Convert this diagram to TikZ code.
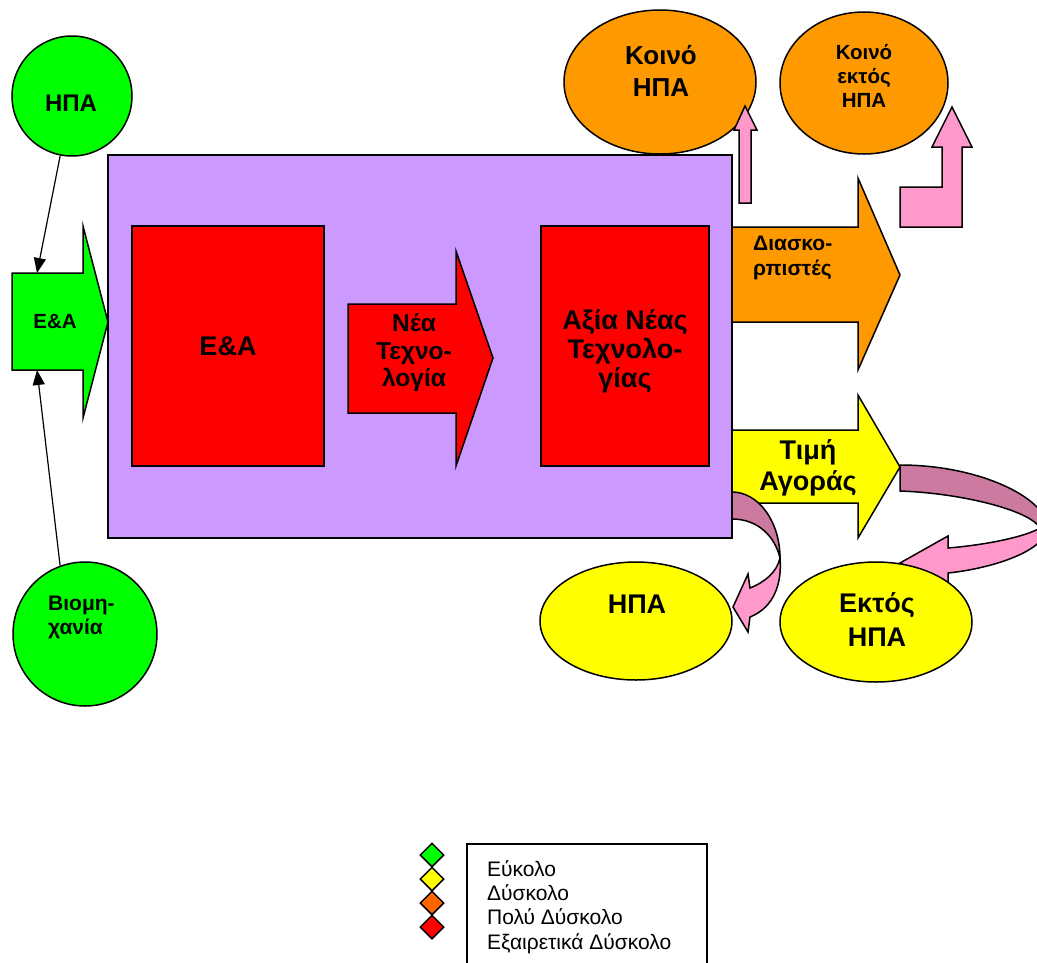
\documentclass[tikz,border=0pt]{standalone}
\usepackage{fontspec}
\setmainfont{Liberation Sans}
\usetikzlibrary{arrows.meta,shapes.geometric}
\definecolor{cGreen}{HTML}{00FF00}
\definecolor{cPurple}{HTML}{CC99FF}
\definecolor{cRed}{HTML}{FF0000}
\definecolor{cOrange}{HTML}{FF9900}
\definecolor{cYellow}{HTML}{FFFF00}
\definecolor{cPink}{HTML}{FF99CC}
\definecolor{cMauve}{HTML}{CC7A9F}
\definecolor{cDeepOrange}{HTML}{FF6600}
\newcommand\tsz[2]{\fontsize{#1}{#2}\selectfont\bfseries}
\begin{document}
\begin{tikzpicture}[x=1pt,y=-1pt,
  outl/.style={draw=black, line width=1.5pt, line join=miter},
  txt/.style={align=center, inner sep=0pt},
  blob/.style={outl, ellipse, inner sep=0pt},
  link/.style={draw=black, line width=1.2pt, -{Triangle[length=15pt,width=12pt]}},
  key/.style={outl, diamond, inner sep=0pt, minimum width=24pt, minimum height=24pt}]
\useasboundingbox (0,0) rectangle (1037,962);
\clip (0,0) rectangle (1037,962);

% central block
\node[outl, fill=cPurple, minimum width=624pt, minimum height=383pt, inner sep=0pt] (core) at (420,346.5) {};

% R&D box and value box
\node[outl, fill=cRed, minimum width=192pt, minimum height=240pt, txt, font=\tsz{27}{30}] (rnd) at (228,346) {Ε\&Α};
\node[outl, fill=cRed, minimum width=168pt, minimum height=240pt, inner sep=0pt] (value) at (625,346) {};
\node[txt, font=\tsz{27}{29}] (valuetxt) at (625,351) {Αξία Νέας\\Τεχνολο-\\γίας};

% new technology arrow
\draw[outl, fill=cRed] (348,304) -- (456,304) -- (456,251) -- (493,358) -- (456,466) -- (456,413) -- (348,413) -- cycle;
\node[txt, font=\tsz{24.5}{27.5}] (newtech) at (414,353) {Νέα\\Τεχνο-\\λογία};

% input arrow on the left
\draw[outl, fill=cGreen] (12,273) -- (83,273) -- (83,226) -- (108,322) -- (83,418) -- (83,370) -- (12,370) -- cycle;
\node[txt, font=\tsz{20.5}{24}] (rndin) at (55,322) {Ε\&Α};
\coordinate (rndtop) at (37,273);
\coordinate (rndbot) at (37,370);

% sources
\node[blob, circle, fill=cGreen, minimum size=120pt] (usa1) at (72,96) {};
\node[txt, font=\tsz{24}{27}] (usa1txt) at (71,103) {ΗΠΑ};
\node[blob, circle, fill=cGreen, minimum size=144pt] (ind) at (85,634) {};
\node[txt, font=\tsz{21}{24}, align=left, anchor=west] (indtxt) at (48,617) {Βιομη-\\χανία};

\draw[link] (usa1) -- (rndtop);
\draw[link] (ind.110) -- (rndbot);

% diffusers arrow
\draw[outl, fill=cOrange] (732,227) -- (858,227) -- (858,178) -- (900,275) -- (858,370) -- (858,322) -- (732,322) -- cycle;
\node[txt, font=\tsz{21}{25}, align=left, anchor=west] (diff) at (753,258) {Διασκο-\\ρπιστές};

% market price arrow
\draw[outl, fill=cYellow] (732,430) -- (858,430) -- (858,395) -- (900,467) -- (858,538) -- (858,503) -- (732,503) -- cycle;
\node[txt, font=\tsz{27}{31}] (price) at (808,468) {Τιμή\\Αγοράς};

% public
\node[blob, fill=cOrange, minimum width=192pt, minimum height=144pt] (pubusa) at (660,82) {};
\node[txt, font=\tsz{26}{32}] (pubusatxt) at (661,71) {Κοινό\\ΗΠΑ};
\node[blob, fill=cOrange, minimum width=168pt, minimum height=142pt] (pubout) at (864,83) {};
\node[txt, font=\tsz{20.5}{24}] (pubouttxt) at (864,76) {Κοινό\\εκτός\\ΗΠΑ};

% straight up arrow
\draw[outl, fill=cPink] (739,203) -- (739,130) -- (734,130) -- (745,106) -- (757,130) -- (751,130) -- (751,203) -- cycle;
% bent up arrow
\draw[outl, fill=cPink] (900,227) -- (900,187) -- (942,187) -- (942,147) -- (932,147) -- (952,107) -- (972,147) -- (962,147) -- (962,227) -- cycle;

% curved arrow towards the domestic market
\draw[outl, fill=cMauve] (732,492) .. controls (758.5,492) and (780,521.6) .. (780,558)
  .. controls (775,536.5) and (758,519) .. (732,519) -- cycle;
\draw[outl, fill=cPink] (780,558) .. controls (782,582) and (775,607) .. (750,617)
  -- (748,632) -- (733,607) -- (748,574) -- (750,588)
  .. controls (765,582) and (777,572) .. (780,558) -- cycle;

% curved arrow towards the foreign market
\draw[outl, fill=cMauve] (900,465) .. controls (981,465) and (1047,499) .. (1047,527)
  -- (1040,528) .. controls (1030,510) and (960,493) .. (900,491) -- cycle;
\draw[outl, fill=cPink] (1047,527) .. controls (1047,550) and (995,568) .. (948,573)
  -- (948,583) -- (900,563) -- (948,536) -- (948,548)
  .. controls (985,545) and (1025,537) .. (1040,528) -- cycle;

% markets
\node[blob, fill=cYellow, minimum width=192pt, minimum height=118pt] (mktusa) at (636,621) {};
\node[txt, font=\tsz{27}{30}] (mktusatxt) at (637,604) {ΗΠΑ};
\node[blob, fill=cYellow, minimum width=192pt, minimum height=120pt] (mktout) at (876,622) {};
\node[txt, font=\tsz{27}{34}] (mktouttxt) at (877,620) {Εκτός\\ΗΠΑ};

% legend
\node[key, fill=cGreen] (k1) at (432,855) {};
\node[key, fill=cYellow] (k2) at (432,879) {};
\node[key, fill=cDeepOrange] (k3) at (432,903) {};
\node[key, fill=cRed] (k4) at (432,927) {};
\draw[outl, line width=1.2pt] (467,975) -- (467,844) -- (707,844) -- (707,975);
\node[txt, align=left, anchor=west, font=\fontsize{21}{24.3}\selectfont] (legend) at (487,907) {Εύκολο\\Δύσκολο\\Πολύ Δύσκολο\\Εξαιρετικά Δύσκολο};
\end{tikzpicture}
\end{document}
